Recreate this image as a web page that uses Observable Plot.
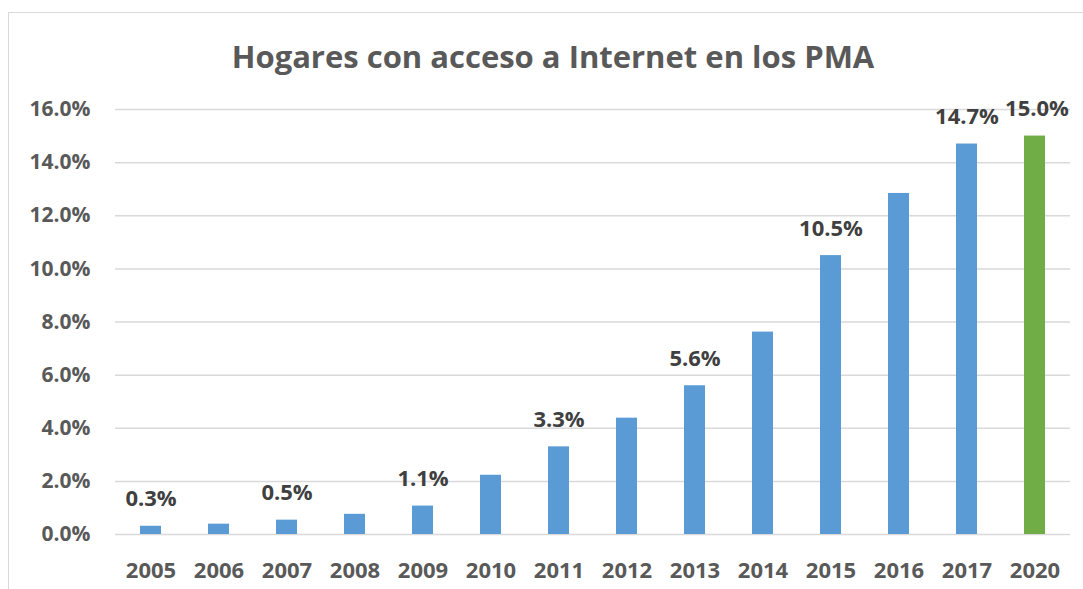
<!DOCTYPE html>
<html>
<head>
<meta charset="utf-8">
<script src="https://cdn.jsdelivr.net/npm/d3@7"></script>
<script src="https://cdn.jsdelivr.net/npm/@observablehq/plot@0.6"></script>
<style>
  html, body { margin: 0; padding: 0; background: #fff; overflow: hidden; }
  #frame { position: absolute; left: 8px; top: 12px; width: 1200px; height: 700px;
           border-left: 1.5px solid #d9d9d9; border-top: 1.5px solid #d9d9d9; }
  #title { position: absolute; left: 0; top: 36px; width: 1106px; text-align: center;
           font-family: "Open Sans", sans-serif; font-weight: 700; font-size: 31px;
           color: #595959; line-height: 40px; letter-spacing: 0px; }
  #chart { position: absolute; left: 0; top: 0; }
</style>
</head>
<body>
<div id="frame"></div>
<div id="chart"></div>
<div id="title">Hogares con acceso a Internet en los PMA</div>
<script>
const years = ["2005","2006","2007","2008","2009","2010","2011","2012","2013","2014","2015","2016","2017","2020"];
const values = [0.31, 0.39, 0.54, 0.76, 1.07, 2.23, 3.3, 4.38, 5.6, 7.62, 10.5, 12.84, 14.7, 15.0];
const labeledYears = ["2005","2007","2009","2011","2013","2015","2017","2020"];
const yTicks = [0, 2, 4, 6, 8, 10, 12, 14, 16];
const highlightYear = "2020";

const data = years.map((y, i) => ({year: y, value: values[i]}));
const labels = data.filter(d => labeledYears.includes(d.year));
const labelsMain = labels.filter(d => d.year !== highlightYear);
const labelsHigh = labels.filter(d => d.year === highlightYear);

const font = "Open Sans, sans-serif";
const labelOpts = {x: "year", y: "value", text: d => d.value.toFixed(1) + "%",
  textAnchor: "middle", fill: "#404040", fontSize: 22, fontWeight: "bold"};

const chart = Plot.plot({
  width: 1083,
  height: 589,
  marginLeft: 115,
  marginRight: 13,
  marginTop: 109,
  marginBottom: 55,
  style: {fontFamily: font, background: "transparent"},
  x: {domain: years, paddingInner: 0.69, paddingOuter: 0.345, label: null},
  y: {domain: [0, 16], label: null},
  marks: [
    Plot.ruleY(yTicks, {stroke: "#d9d9d9", strokeWidth: 1.5}),
    Plot.barY(data, {x: "year", y: "value",
      fill: d => d.year === highlightYear ? "#70ad47" : "#5b9bd5"}),
    Plot.text(labelsMain, {...labelOpts, dy: -27}),
    Plot.text(labelsHigh, {...labelOpts, dy: -27, dx: 2}),
    Plot.axisY(yTicks, {tickSize: 0, tickPadding: 25, tickFormat: d => d.toFixed(1) + "%",
      fontSize: 21, fontWeight: "bold", fill: "#595959", label: null}),
    Plot.axisX({tickSize: 0, tickPadding: 28, fontSize: 22, fontWeight: "bold",
      fill: "#595959", label: null})
  ]
});
document.getElementById("chart").appendChild(chart);
</script>
</body>
</html>
